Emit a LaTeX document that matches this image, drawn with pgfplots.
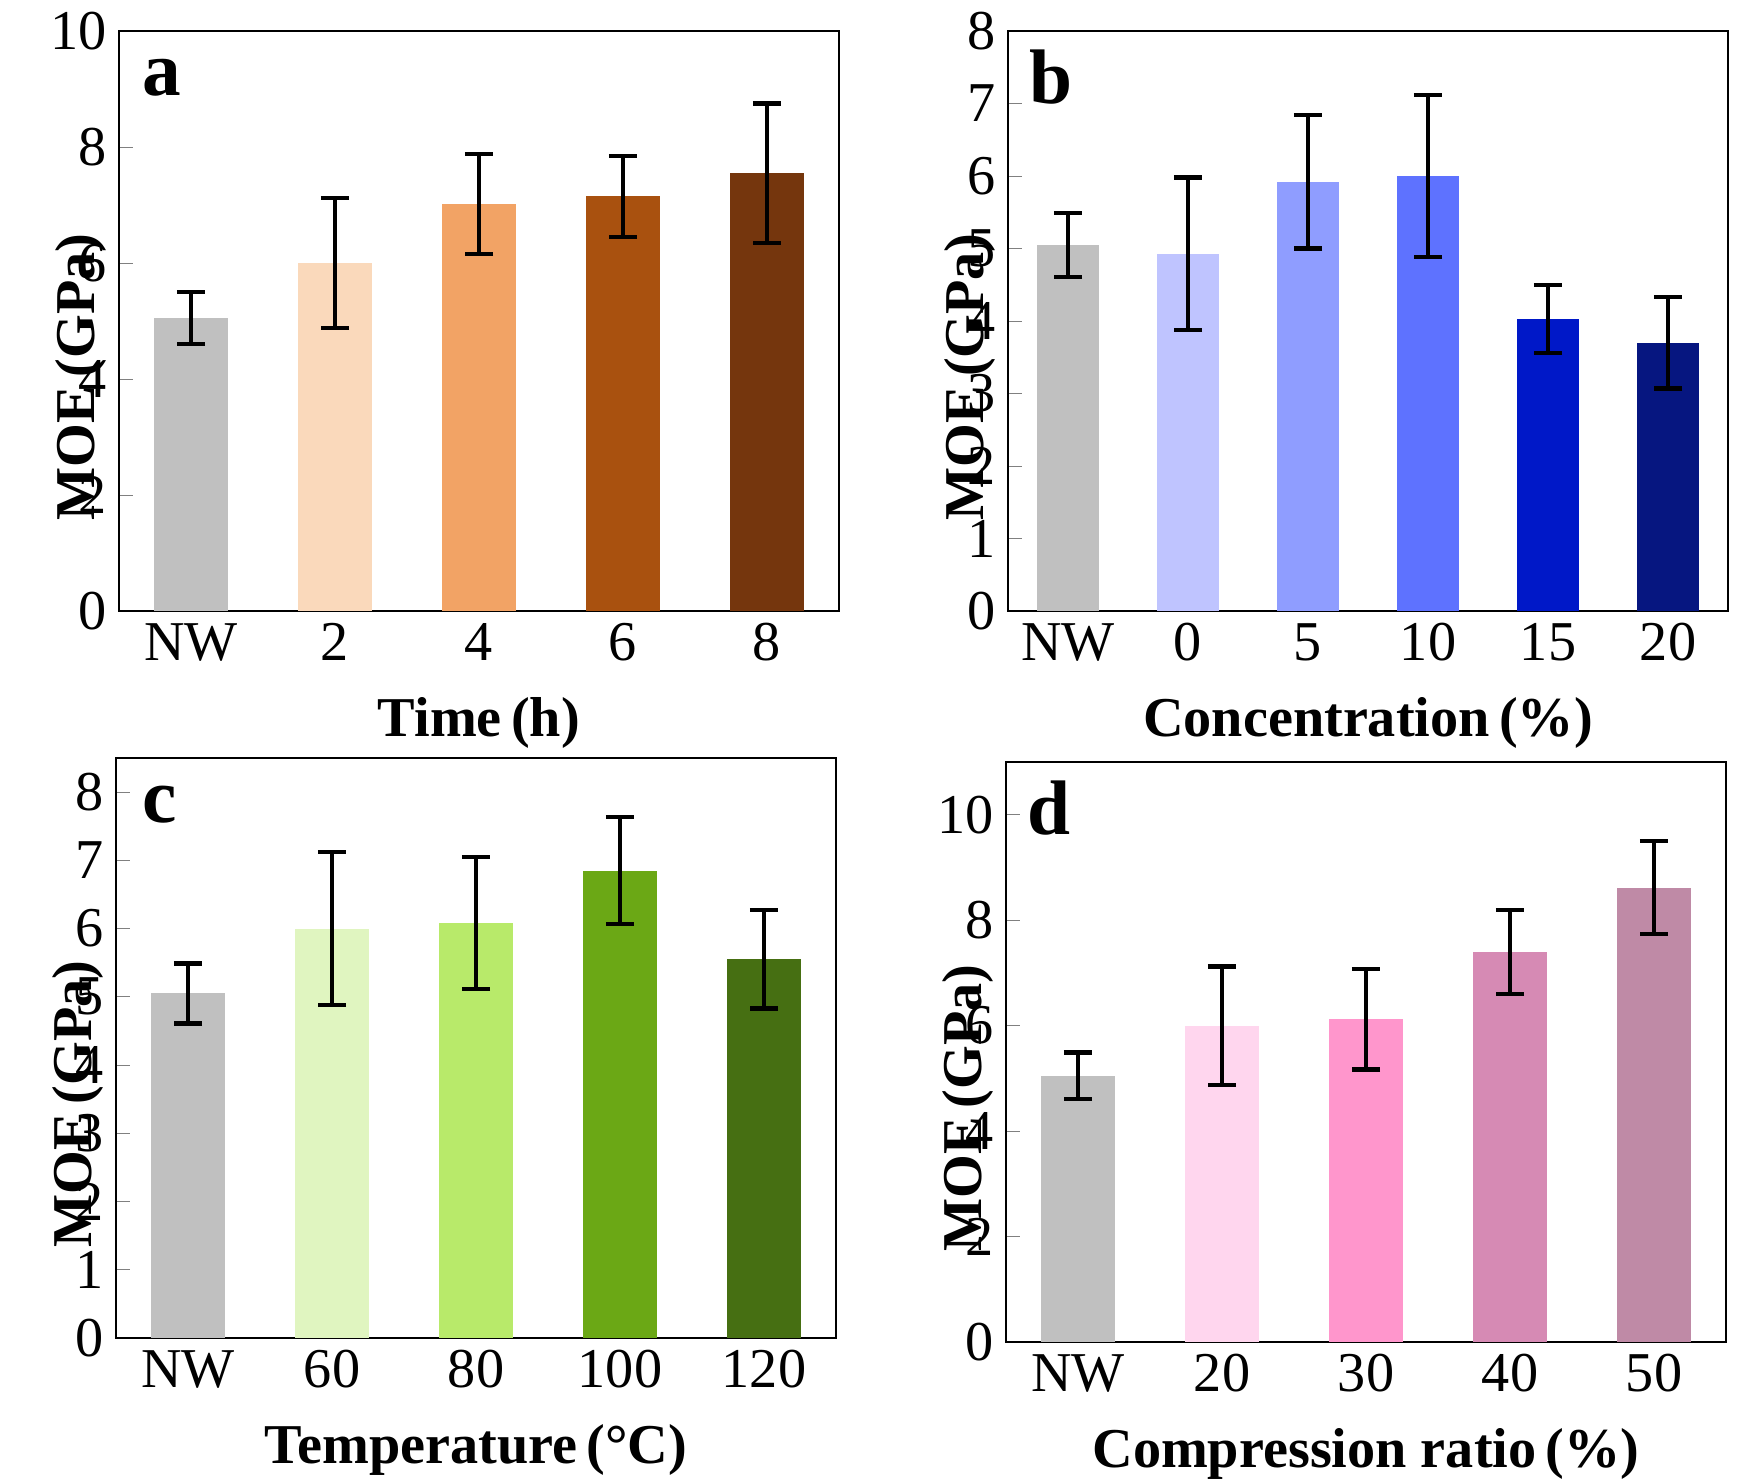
\documentclass[border=0pt]{standalone}
\usepackage{pgfplots}
\pgfplotsset{compat=1.18}
\usepackage{fontspec}
\setmainfont{Liberation Serif}
\definecolor{gr}{HTML}{C0C0C0}
\definecolor{a1}{HTML}{FAD9BB}\definecolor{a2}{HTML}{F2A365}\definecolor{a3}{HTML}{A9510F}\definecolor{a4}{HTML}{75360D}
\definecolor{b1}{HTML}{BFC4FF}\definecolor{b2}{HTML}{8F9DFF}\definecolor{b3}{HTML}{5E72FF}\definecolor{b4}{HTML}{0018C8}\definecolor{b5}{HTML}{061680}
\definecolor{c1}{HTML}{E0F5C0}\definecolor{c2}{HTML}{B8EA6A}\definecolor{c3}{HTML}{6BA815}\definecolor{c4}{HTML}{466F12}
\definecolor{d1}{HTML}{FFD6EE}\definecolor{d2}{HTML}{FF96CC}\definecolor{d3}{HTML}{D68AB4}\definecolor{d4}{HTML}{BF8AA6}
\newcommand{\B}[4]{\addplot[ybar,bar width=#4,bar shift=0pt,fill=#3,draw=none,
 error bars/.cd,y dir=both,y explicit,error bar style={black,line width=1.2pt},
 error mark options={black,line width=1.2pt,mark size=4pt,rotate=90}] coordinates {#1 +- #2};}
\pgfplotsset{mya/.style={scale only axis,anchor=north west,width=7.2cm,height=5.8cm,
 axis line style={line width=0.8pt},ytick pos=left,tick align=inside,major tick length=4pt,
 xtick style={draw=none},
 ticklabel style={font=\fontsize{16}{18}\selectfont},
 /pgf/number format/assume math mode=true,
 label style={font=\bfseries\fontsize{16}{18}\selectfont},
 ylabel style={at={(axis description cs:0,0.5)},anchor=south,xshift=-0.56cm},
 xlabel style={yshift=-0.12cm},
 ylabel={MOE\,(GPa)},ymin=0,clip=false}}
\begin{document}
\begin{tikzpicture}
\useasboundingbox (0,0) rectangle (17.47,-14.81);
\begin{axis}[mya,at={(1.19cm,-0.31cm)},xmin=-0.5,xmax=4.5,ymax=10,ytick={0,2,...,10},
 xtick={0,...,4},xticklabels={NW,2,4,6,8},xlabel={Time\,(h)}]
\B{(0,5.05)}{(0,0.45)}{gr}{0.51}
\B{(1,6.0)}{(0,1.12)}{a1}{0.51}
\B{(2,7.02)}{(0,0.86)}{a2}{0.51}
\B{(3,7.15)}{(0,0.7)}{a3}{0.51}
\B{(4,7.55)}{(0,1.2)}{a4}{0.51}
\node[font=\bfseries\fontsize{22}{24}\selectfont] at (rel axis cs:0.06,0.92) {a};
\end{axis}
\begin{axis}[mya,at={(10.08cm,-0.31cm)},xmin=-0.5,xmax=5.5,ymax=8,ytick={0,...,8},
 xtick={0,...,5},xticklabels={NW,0,5,10,15,20},xlabel={Concentration\,(\%)}]
\B{(0,5.05)}{(0,0.44)}{gr}{0.52}
\B{(1,4.93)}{(0,1.05)}{b1}{0.52}
\B{(2,5.92)}{(0,0.92)}{b2}{0.52}
\B{(3,6.0)}{(0,1.12)}{b3}{0.52}
\B{(4,4.03)}{(0,0.47)}{b4}{0.52}
\B{(5,3.7)}{(0,0.63)}{b5}{0.52}
\node[font=\bfseries\fontsize{22}{24}\selectfont] at (rel axis cs:0.06,0.92) {b};
\end{axis}
\begin{axis}[mya,at={(1.16cm,-7.58cm)},xmin=-0.5,xmax=4.5,ymax=8.5,ytick={0,...,8},
 xtick={0,...,4},xticklabels={NW,60,80,100,120},xlabel={Temperature\,(°C)}]
\B{(0,5.05)}{(0,0.44)}{gr}{0.51}
\B{(1,6.0)}{(0,1.12)}{c1}{0.51}
\B{(2,6.08)}{(0,0.97)}{c2}{0.51}
\B{(3,6.85)}{(0,0.78)}{c3}{0.51}
\B{(4,5.55)}{(0,0.72)}{c4}{0.51}
\node[font=\bfseries\fontsize{22}{24}\selectfont] at (rel axis cs:0.06,0.92) {c};
\end{axis}
\begin{axis}[mya,at={(10.06cm,-7.62cm)},xmin=-0.5,xmax=4.5,ymax=11,ytick={0,2,...,10},
 xtick={0,...,4},xticklabels={NW,20,30,40,50},xlabel={Compression ratio\,(\%)}]
\B{(0,5.05)}{(0,0.44)}{gr}{0.51}
\B{(1,6.0)}{(0,1.12)}{d1}{0.51}
\B{(2,6.12)}{(0,0.95)}{d2}{0.51}
\B{(3,7.4)}{(0,0.8)}{d3}{0.51}
\B{(4,8.62)}{(0,0.88)}{d4}{0.51}
\node[font=\bfseries\fontsize{22}{24}\selectfont] at (rel axis cs:0.06,0.92) {d};
\end{axis}
\end{tikzpicture}
\end{document}
